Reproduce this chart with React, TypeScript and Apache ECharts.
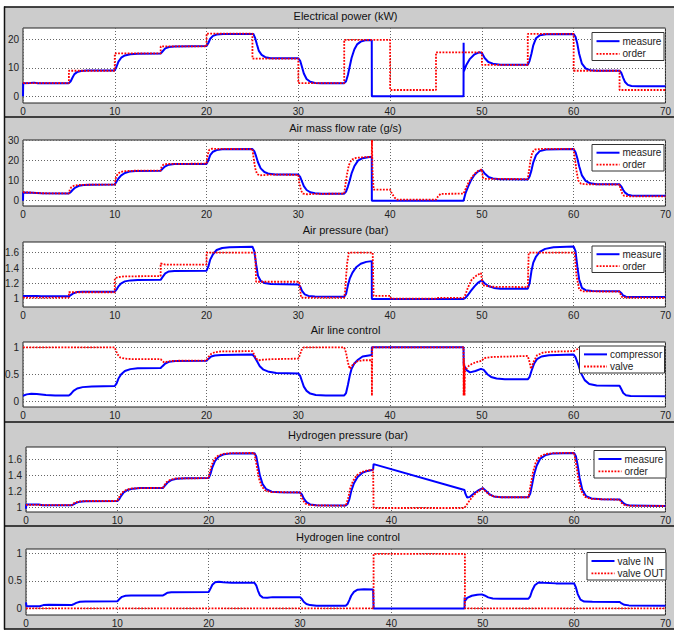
import React, { useEffect, useRef } from "react";
import * as echarts from "echarts";

const FONT = '"Liberation Sans", Arial, Helvetica, sans-serif';
const BLUE = "#0000ff";
const RED = "#ff0000";
const RED_DASH = [1.8, 1.4];

// Time axis (s)
const timeMin = 0;
const timeMax = 70;
const timeStep = 10;

// Tick labels of each panel's value axis
const powerTicks = [0, 10, 20];
const flowTicks = [0, 10, 20, 30];
const airPressureTicks = [1, 1.2, 1.4, 1.6];
const airControlTicks = [0, 0.5, 1];
const h2PressureTicks = [1, 1.2, 1.4, 1.6];
const h2ControlTicks = [0, 0.5, 1];

// Electrical power (kW): [time, value]
const powerMeasure = [
  [0, 0], [0.02, 4.6], [0.8, 4.7], [1.2, 4.8], [1.6, 4.6], [5, 4.6], [5.2, 5.3], [5.4, 6.6], [5.6, 7.8], [5.9, 8.5], [6.3, 8.9], [7, 9.05], [10, 9.1],
  [10.2, 10.5], [10.4, 12.2], [10.7, 13.6], [11.1, 14.4], [11.7, 14.8], [12.5, 15], [15, 15.1],
  [15.2, 15.8], [15.5, 16.9], [15.9, 17.4], [16.5, 17.6], [20, 17.7],
  [20.2, 18.8], [20.4, 20.3], [20.7, 21.3], [21.1, 21.8], [21.8, 22], [25.1, 22],
  [25.3, 20.5], [25.5, 18.2], [25.7, 16], [26, 14.6], [26.4, 13.8], [27, 13.4], [30, 13.4],
  [30.2, 12.5], [30.4, 10.3], [30.6, 8], [30.9, 6.1], [31.3, 5.1], [31.8, 4.7], [32.5, 4.6], [35, 4.6],
  [35.2, 5.3], [35.4, 7.5], [35.6, 10.5], [35.8, 13.5], [36.1, 16.5], [36.4, 18.3], [36.8, 19.3], [37.3, 19.8], [38, 19.9],
  [38.01, 0], [48, 0], [48.01, 18.9], [48.03, 8.8], [48.3, 11], [48.7, 13.2], [49.2, 14.8], [49.7, 15.5], [50, 15.3],
  [50.3, 13.5], [50.7, 12.1], [51.2, 11.5], [52, 11.1], [55, 11.1],
  [55.2, 12.5], [55.4, 15], [55.6, 18], [55.9, 20.5], [56.3, 21.5], [57, 21.9], [60, 22],
  [60.2, 21], [60.4, 18.5], [60.6, 15], [60.9, 11.5], [61.3, 9.8], [61.8, 9.2], [62.5, 9.0], [65, 9.0],
  [65.2, 8.2], [65.4, 6.5], [65.6, 5], [65.9, 4], [66.3, 3.6], [67, 3.5], [70, 3.5],
];
const powerOrder = [
  [0, 4.6], [5, 4.6], [5, 9.0], [10, 9.0], [10, 15.1], [15, 15.1], [15, 17.6], [20, 17.6], [20, 22.1], [25, 22.1],
  [25, 13.3], [30, 13.3], [30, 4.6], [35, 4.6], [35, 19.9], [40, 19.9], [40, 2.2], [45, 2.2], [45, 15.5], [50, 15.5],
  [50, 11.1], [55, 11.1], [55, 22.0], [60, 22.0], [60, 9.0], [65, 9.0], [65, 2.2], [70, 2.2],
];

// Air mass flow rate (g/s)
const flowMeasure = [
  [0, 0], [0.02, 4.1], [1, 4], [2, 3.7], [5, 3.6], [5.2, 4.2], [5.4, 5.3], [5.7, 6.5], [6.1, 7.4], [6.6, 7.8], [7.5, 7.9], [10, 8.0],
  [10.2, 9.5], [10.4, 11], [10.7, 12.5], [11.1, 13.7], [11.6, 14.4], [12.3, 14.7], [15, 14.8],
  [15.2, 15.8], [15.5, 17], [15.9, 17.8], [16.5, 18.1], [20, 18.2],
  [20.2, 20], [20.4, 22.5], [20.7, 24.2], [21.1, 25], [21.7, 25.4], [25, 25.5],
  [25.2, 24.5], [25.4, 22], [25.6, 19], [25.9, 16], [26.3, 14.2], [26.8, 13.3], [27.5, 13], [30, 12.9],
  [30.2, 11.8], [30.4, 9.5], [30.6, 7.2], [30.9, 5.3], [31.3, 4.2], [31.8, 3.7], [32.5, 3.5], [35, 3.5],
  [35.2, 4.5], [35.4, 7], [35.6, 10], [35.8, 13.5], [36.1, 17], [36.5, 19.8], [37, 21], [37.6, 21.5], [38, 21.7],
  [38.01, 0], [48, 0],
  [48.2, 3.5], [48.5, 7], [48.8, 10], [49.2, 12.8], [49.6, 14.5], [50, 15.2], [50.3, 13.5], [50.7, 11.8], [51.2, 11], [52, 10.6], [55, 10.5],
  [55.2, 12], [55.4, 15], [55.6, 19], [55.9, 22.5], [56.3, 24.5], [57, 25.3], [60, 25.5],
  [60.2, 24], [60.4, 21], [60.6, 17], [60.9, 12.5], [61.3, 9.8], [61.8, 8.6], [62.5, 8.2], [65, 8.1],
  [65.2, 7], [65.4, 5.3], [65.6, 4], [65.9, 3], [66.3, 2.6], [67, 2.5], [70, 2.5],
];
const flowOrder = [
  [0, 4.2], [1, 4], [2, 3.7], [5, 3.6], [5.1, 5.5], [5.25, 6.6], [5.5, 7.3], [6, 7.8], [7, 7.9], [10, 8],
  [10.1, 11], [10.3, 13.2], [10.6, 14.2], [11, 14.6], [12, 14.8], [15, 14.9], [15.1, 16.8], [15.3, 17.8], [15.7, 18.2], [20, 18.3],
  [20.1, 22.5], [20.3, 25.2], [20.6, 25.7], [21.2, 25.6], [25, 25.5], [25.1, 22], [25.3, 16], [25.5, 13.2], [25.8, 12.5], [26.3, 12.7], [27, 12.9], [30, 12.8],
  [30.1, 9], [30.3, 5], [30.5, 3.5], [31, 3.2], [32, 3.4], [35, 3.5], [35.1, 7], [35.3, 13], [35.5, 17.5], [35.8, 20.3], [36.3, 21.2], [37.5, 21.6], [38, 21.7],
  [38.02, 30], [38.08, 15], [38.2, 5.5], [40, 5.5], [40.2, 3.5], [40.5, 1.5], [40.8, 0.5], [45, 0.5], [45.2, 2], [45.5, 3.4], [48, 3.5],
  [48.2, 5.5], [48.5, 8.5], [48.8, 11], [49.2, 13.3], [49.6, 14.8], [50, 15.5], [50.1, 11.5], [50.3, 10.8], [55, 10.7],
  [55.1, 14], [55.3, 20], [55.5, 24], [55.8, 25.3], [56.5, 25.6], [60, 25.6], [60.1, 22], [60.3, 15], [60.5, 10], [60.8, 8.4], [61.5, 8.1], [65, 8],
  [65.1, 6], [65.3, 3.5], [65.5, 2.4], [66, 2.2], [70, 2.2],
];

// Air pressure (bar)
const airPressureMeasure = [
  [0, 1.035], [1.5, 1.035], [2, 1.03], [5, 1.03], [5.2, 1.045], [5.5, 1.07], [5.9, 1.085], [6.5, 1.09], [10, 1.09],
  [10.2, 1.12], [10.4, 1.16], [10.7, 1.2], [11.1, 1.225], [11.7, 1.238], [12.5, 1.243], [15, 1.245],
  [15.2, 1.28], [15.5, 1.33], [15.9, 1.355], [16.5, 1.362], [20, 1.365],
  [20.2, 1.42], [20.4, 1.51], [20.7, 1.58], [21.1, 1.635], [21.7, 1.662], [22.5, 1.672], [25, 1.678],
  [25.2, 1.62], [25.4, 1.45], [25.6, 1.3], [25.9, 1.23], [26.3, 1.205], [27, 1.19], [30, 1.185],
  [30.2, 1.16], [30.4, 1.1], [30.7, 1.055], [31.1, 1.035], [31.8, 1.028], [35, 1.025],
  [35.2, 1.06], [35.4, 1.17], [35.6, 1.26], [35.9, 1.34], [36.3, 1.41], [36.8, 1.455], [37.4, 1.48], [38, 1.49],
  [38.01, 0.995], [48, 0.995],
  [48.2, 1.01], [48.5, 1.05], [48.8, 1.1], [49.2, 1.16], [49.6, 1.21], [50, 1.24], [50.3, 1.2], [50.7, 1.165], [51.3, 1.14], [52, 1.13], [55, 1.13],
  [55.2, 1.2], [55.4, 1.36], [55.6, 1.47], [55.9, 1.55], [56.3, 1.61], [56.9, 1.65], [57.8, 1.672], [60, 1.68],
  [60.2, 1.62], [60.4, 1.42], [60.6, 1.25], [60.9, 1.14], [61.3, 1.11], [62, 1.1], [65, 1.095],
  [65.2, 1.07], [65.4, 1.04], [65.7, 1.025], [66.2, 1.02], [70, 1.02],
];
const airPressureOrder = [
  [0, 1.013], [5, 1.013], [5, 1.083], [10, 1.083], [10, 1.26], [10.3, 1.28], [11, 1.29], [15, 1.295], [15, 1.46], [15.5, 1.445], [20, 1.445],
  [20, 1.6], [25.3, 1.6], [25.4, 1.22], [30.1, 1.22], [30.3, 1.012], [35, 1.012], [35.1, 1.1], [35.3, 1.45], [35.5, 1.6], [38.1, 1.6],
  [38.2, 1.035], [40, 1.035], [40.1, 1.0], [45, 1.0], [45.1, 1.01], [48, 1.01], [48.2, 1.05], [48.5, 1.15], [48.9, 1.25], [49.4, 1.3], [49.9, 1.335],
  [50.1, 1.175], [51, 1.155], [55, 1.15], [55.1, 1.6], [60.1, 1.6], [60.3, 1.3], [60.6, 1.12], [61, 1.095], [65, 1.09],
  [65.1, 1.06], [65.3, 1.015], [70, 1.01],
];

// Air line control (compressor and valve commands)
const compressorCmd = [
  [0, 0.1], [0.4, 0.125], [0.9, 0.135], [1.5, 0.13], [2.5, 0.115], [3.5, 0.105], [5, 0.105],
  [5.2, 0.13], [5.5, 0.19], [5.9, 0.235], [6.5, 0.26], [7.5, 0.27], [10, 0.28],
  [10.2, 0.33], [10.4, 0.42], [10.7, 0.5], [11.1, 0.56], [11.7, 0.595], [12.5, 0.61], [15, 0.615],
  [15.2, 0.65], [15.5, 0.7], [15.9, 0.73], [16.6, 0.745], [20, 0.75],
  [20.2, 0.785], [20.5, 0.83], [20.9, 0.85], [21.6, 0.86], [25, 0.865],
  [25.2, 0.83], [25.5, 0.74], [25.8, 0.65], [26.2, 0.585], [26.8, 0.545], [27.6, 0.525], [30, 0.515],
  [30.2, 0.47], [30.4, 0.37], [30.6, 0.27], [30.9, 0.19], [31.3, 0.14], [31.9, 0.115], [33, 0.105], [35, 0.105],
  [35.2, 0.15], [35.4, 0.3], [35.6, 0.47], [35.8, 0.6], [36.1, 0.7], [36.5, 0.77], [37, 0.83], [38, 0.86],
  [38.01, 1.0], [48, 1.0], [48.02, 0.68], [48.3, 0.58], [48.7, 0.535], [49.3, 0.56], [49.9, 0.6], [50.2, 0.58], [50.6, 0.5], [51, 0.45], [51.6, 0.42], [52.5, 0.405], [55, 0.405],
  [55.2, 0.45], [55.4, 0.56], [55.7, 0.7], [56, 0.78], [56.5, 0.83], [57.3, 0.855], [60, 0.865],
  [60.2, 0.82], [60.5, 0.68], [60.8, 0.52], [61.2, 0.39], [61.7, 0.32], [62.5, 0.29], [65, 0.285],
  [65.2, 0.22], [65.4, 0.15], [65.7, 0.11], [66.2, 0.095], [70, 0.09],
];
const valveCmd = [
  [0, 1], [10, 1], [10.1, 0.95], [10.3, 0.87], [10.6, 0.81], [11.1, 0.79], [12, 0.78], [15, 0.78], [15.2, 0.74], [15.4, 0.72], [15.8, 0.74], [16.5, 0.75], [20, 0.755],
  [20.2, 0.82], [20.5, 0.88], [20.9, 0.91], [21.6, 0.925], [25, 0.93], [25.2, 0.86], [25.4, 0.79], [25.7, 0.76], [26.1, 0.77], [27, 0.78], [30, 0.79],
  [30.15, 0.85], [30.35, 0.95], [30.6, 1], [35, 1], [35.2, 0.9], [35.4, 0.72], [35.6, 0.6], [35.9, 0.67], [36.4, 0.74], [37, 0.76], [38, 0.76],
  [38.02, 0.1], [38.05, 1], [48, 1], [48.01, 0.1], [48.03, 0.8], [48.05, 0.15], [48.08, 0.7], [48.11, 0.1], [48.15, 0.55],
  [48.3, 0.6], [48.6, 0.66], [49, 0.7], [49.5, 0.73], [50, 0.75], [50.2, 0.8], [51, 0.82], [53, 0.83], [55, 0.84],
  [55.2, 0.72], [55.35, 0.6], [55.6, 0.72], [56, 0.85], [56.6, 0.9], [57.5, 0.92], [60, 0.93], [60.3, 0.96], [61, 1], [70, 1],
];

// Hydrogen pressure (bar)
const h2PressureMeasure = [
  [0, 0.98], [0.03, 1.035], [1.4, 1.035], [1.8, 1.025], [5, 1.025], [5.2, 1.035], [5.5, 1.055], [5.9, 1.07], [6.5, 1.075], [10, 1.078],
  [10.2, 1.1], [10.4, 1.14], [10.7, 1.185], [11.1, 1.215], [11.7, 1.233], [12.5, 1.24], [15, 1.242],
  [15.2, 1.27], [15.5, 1.31], [15.9, 1.34], [16.5, 1.357], [17.5, 1.362], [20, 1.365],
  [20.2, 1.42], [20.4, 1.5], [20.7, 1.58], [21.1, 1.635], [21.7, 1.665], [22.5, 1.675], [25, 1.678],
  [25.2, 1.64], [25.4, 1.52], [25.6, 1.4], [25.9, 1.29], [26.3, 1.225], [26.9, 1.195], [27.8, 1.187], [30, 1.185],
  [30.2, 1.16], [30.4, 1.11], [30.7, 1.065], [31.1, 1.035], [31.8, 1.025], [35, 1.022],
  [35.2, 1.04], [35.4, 1.1], [35.6, 1.2], [35.9, 1.3], [36.3, 1.38], [36.8, 1.43], [37.4, 1.455], [38, 1.47],
  [38.05, 1.54], [48, 1.215], [48.1, 1.17], [48.3, 1.12], [48.6, 1.13], [49, 1.17], [49.5, 1.21], [50, 1.24], [50.3, 1.21], [50.7, 1.165], [51.2, 1.135], [52, 1.125], [55, 1.125],
  [55.2, 1.17], [55.4, 1.28], [55.6, 1.4], [55.9, 1.52], [56.3, 1.61], [56.9, 1.655], [57.7, 1.675], [60, 1.68],
  [60.2, 1.64], [60.4, 1.52], [60.6, 1.37], [60.9, 1.22], [61.3, 1.14], [61.9, 1.11], [63, 1.1], [65, 1.097],
  [65.2, 1.075], [65.4, 1.05], [65.7, 1.03], [66.2, 1.02], [70, 1.015],
];
const h2PressureOrder = [
  [0, 1.03], [1.4, 1.03], [1.8, 1.025], [5, 1.025], [5.1, 1.04], [5.4, 1.06], [5.8, 1.072], [6.5, 1.078], [10, 1.078],
  [10.1, 1.1], [10.3, 1.15], [10.6, 1.19], [11, 1.22], [11.6, 1.235], [12.5, 1.24], [15, 1.242],
  [15.1, 1.27], [15.4, 1.315], [15.8, 1.345], [16.4, 1.36], [20, 1.365],
  [20.1, 1.43], [20.3, 1.52], [20.6, 1.6], [21, 1.645], [21.6, 1.67], [22.5, 1.678], [25, 1.68],
  [25.1, 1.62], [25.3, 1.49], [25.5, 1.36], [25.8, 1.26], [26.2, 1.21], [26.8, 1.19], [30, 1.185],
  [30.1, 1.15], [30.3, 1.09], [30.6, 1.045], [31, 1.03], [31.7, 1.022], [35, 1.02],
  [35.1, 1.05], [35.3, 1.13], [35.5, 1.24], [35.8, 1.33], [36.2, 1.4], [36.7, 1.44], [37.3, 1.46], [38, 1.47],
  [38.05, 0.99], [48, 0.99], [48.3, 1.04], [48.6, 1.09], [49, 1.15], [49.5, 1.2], [50, 1.235], [50.3, 1.2], [50.7, 1.16], [51.2, 1.135], [52, 1.125], [55, 1.125],
  [55.1, 1.19], [55.3, 1.31], [55.5, 1.44], [55.8, 1.56], [56.2, 1.63], [56.8, 1.665], [57.6, 1.678], [60, 1.682],
  [60.1, 1.62], [60.3, 1.48], [60.5, 1.33], [60.8, 1.2], [61.2, 1.13], [61.8, 1.105], [63, 1.1], [65, 1.095],
  [65.1, 1.07], [65.3, 1.04], [65.6, 1.025], [66.2, 1.017], [70, 1.015],
];

// Hydrogen line control (valve commands)
const valveInCmd = [
  [0, 0.11], [0.05, 0.04], [1.5, 0.04], [1.9, 0.06], [2.5, 0.065], [5, 0.06], [5.2, 0.075], [5.5, 0.1], [5.9, 0.12], [6.5, 0.125], [10, 0.13],
  [10.2, 0.165], [10.5, 0.21], [10.9, 0.23], [11.5, 0.235], [15, 0.235], [15.2, 0.255], [15.5, 0.285], [15.9, 0.295], [20, 0.3],
  [20.2, 0.36], [20.4, 0.43], [20.7, 0.475], [21.1, 0.485], [21.6, 0.475], [22.5, 0.468], [25, 0.467],
  [25.2, 0.42], [25.4, 0.32], [25.6, 0.24], [25.9, 0.2], [26.4, 0.195], [27, 0.205], [30, 0.205],
  [30.2, 0.17], [30.4, 0.12], [30.7, 0.08], [31.1, 0.06], [31.8, 0.05], [35, 0.05],
  [35.2, 0.08], [35.4, 0.15], [35.6, 0.23], [35.9, 0.3], [36.3, 0.34], [37, 0.35], [38, 0.345],
  [38.05, 0], [48, 0], [48.02, 0.2], [48.04, 0.13], [48.3, 0.19], [48.8, 0.23], [49.4, 0.25], [49.9, 0.255], [50.2, 0.235], [50.6, 0.2], [51.1, 0.18], [52, 0.175], [55, 0.175],
  [55.2, 0.22], [55.4, 0.32], [55.7, 0.42], [56.1, 0.47], [56.7, 0.465], [58, 0.455], [60, 0.455],
  [60.2, 0.38], [60.4, 0.26], [60.7, 0.16], [61.1, 0.125], [62, 0.12], [65, 0.115],
  [65.2, 0.09], [65.5, 0.065], [66, 0.055], [70, 0.05],
];
const valveOutCmd = [
  [0, 0], [38.05, 0], [38.05, 0.99], [48.05, 0.99], [48.05, 0], [70, 0],
];

type Panel = {
  title: string;
  left: number;
  top: number;
  width: number;
  height: number;
  yMin: number;
  yMax: number;
  yTicks: number[];
  solid: { name: string; data: number[][] };
  dotted: { name: string; data: number[][] };
  // legend box: x, y, width, height
  legendBox: number[];
};

const panels: Panel[] = [
  {
    title: "Electrical power (kW)", left: 23, top: 28, width: 645, height: 75,
    yMin: -2.4, yMax: 24.1, yTicks: powerTicks,
    solid: { name: "measure", data: powerMeasure }, dotted: { name: "order", data: powerOrder },
    legendBox: [592, 32.5, 72, 28],
  },
  {
    title: "Air mass flow rate (g/s)", left: 23, top: 140, width: 645, height: 66,
    yMin: -2.6, yMax: 30, yTicks: flowTicks,
    solid: { name: "measure", data: flowMeasure }, dotted: { name: "order", data: flowOrder },
    legendBox: [592, 144.5, 72, 26.5],
  },
  {
    title: "Air pressure (bar)", left: 23, top: 242, width: 645, height: 65,
    yMin: 0.89, yMax: 1.74, yTicks: airPressureTicks,
    solid: { name: "measure", data: airPressureMeasure }, dotted: { name: "order", data: airPressureOrder },
    legendBox: [592, 246, 72, 26.5],
  },
  {
    title: "Air line control", left: 23, top: 342, width: 645, height: 65,
    yMin: -0.11, yMax: 1.1, yTicks: airControlTicks,
    solid: { name: "compressor", data: compressorCmd }, dotted: { name: "valve", data: valveCmd },
    legendBox: [579.5, 346, 85, 27],
  },
  {
    title: "Hydrogen pressure (bar)", left: 26, top: 447, width: 644, height: 65,
    yMin: 0.94, yMax: 1.755, yTicks: h2PressureTicks,
    solid: { name: "measure", data: h2PressureMeasure }, dotted: { name: "order", data: h2PressureOrder },
    legendBox: [594, 450.5, 72, 27.5],
  },
  {
    title: "Hydrogen line control", left: 26, top: 549, width: 644, height: 66,
    yMin: -0.12, yMax: 1.08, yTicks: h2ControlTicks,
    solid: { name: "valve IN", data: valveInCmd }, dotted: { name: "valve OUT", data: valveOutCmd },
    legendBox: [587, 552.5, 79, 27.5],
  },
];

const gridLineStyle = { color: "#666", type: [1, 2] as number[], width: 1 };
const labelStyle = { fontSize: 10, color: "#222", fontFamily: FONT };
const LEGEND_Z = 100;

// Boxed legend in the corner of a panel: a white frame with a line sample and a label per series
function legendGraphic(p: Panel) {
  const [bx, by, bw, bh] = p.legendBox;
  const rowA = by + bh * 0.31;
  const rowB = by + bh * 0.76;
  const lx = bx + 4.5;
  const lineLen = 23;
  const tx = lx + lineLen + 3;
  const font = `10px ${FONT}`;
  return [
    { type: "rect", z: LEGEND_Z, silent: true, shape: { x: bx, y: by, width: bw, height: bh }, style: { fill: "#fff", stroke: "#333", lineWidth: 1 } },
    { type: "line", z: LEGEND_Z + 1, silent: true, shape: { x1: lx, y1: rowA, x2: lx + lineLen, y2: rowA }, style: { stroke: BLUE, lineWidth: 2 } },
    { type: "text", z: LEGEND_Z + 1, silent: true, x: tx, y: rowA, style: { text: p.solid.name, fill: "#222", font, verticalAlign: "middle" } },
    { type: "line", z: LEGEND_Z + 1, silent: true, shape: { x1: lx, y1: rowB, x2: lx + lineLen, y2: rowB }, style: { stroke: RED, lineWidth: 1.8, lineDash: RED_DASH } },
    { type: "text", z: LEGEND_Z + 1, silent: true, x: tx, y: rowB, style: { text: p.dotted.name, fill: "#222", font, verticalAlign: "middle" } },
  ];
}

function buildOption() {
  const grid: any[] = [];
  const xAxis: any[] = [];
  const yAxis: any[] = [];
  const series: any[] = [];
  const frame = { stroke: "#111", lineWidth: 1.5 };
  const graphic: any[] = [
    // white page margins around the grey figure
    { type: "rect", shape: { x: 0, y: 0, width: 674, height: 6.5 }, style: { fill: "#fff" }, silent: true },
    { type: "rect", shape: { x: 0, y: 0, width: 4, height: 631 }, style: { fill: "#fff" }, silent: true },
    { type: "rect", shape: { x: 0, y: 629.5, width: 674, height: 2 }, style: { fill: "#fff" }, silent: true },
    // figure frames
    { type: "line", shape: { x1: 4.5, y1: 6.5, x2: 4.5, y2: 629.5 }, style: frame, silent: true },
    { type: "line", shape: { x1: 4, y1: 7, x2: 674, y2: 7 }, style: frame, silent: true },
    { type: "line", shape: { x1: 4, y1: 117, x2: 674, y2: 117 }, style: frame, silent: true },
    { type: "line", shape: { x1: 4, y1: 422, x2: 674, y2: 422 }, style: frame, silent: true },
    { type: "line", shape: { x1: 4, y1: 526, x2: 674, y2: 526 }, style: frame, silent: true },
    { type: "line", shape: { x1: 4, y1: 629, x2: 674, y2: 629 }, style: frame, silent: true },
  ];

  panels.forEach((p, i) => {
    grid.push({
      left: p.left, top: p.top, width: p.width, height: p.height,
      show: true, backgroundColor: "#fff", borderColor: "#222", borderWidth: 1,
      containLabel: false,
    });
    xAxis.push({
      type: "value", gridIndex: i, min: timeMin, max: timeMax, interval: timeStep,
      axisLine: { show: false }, axisTick: { show: false },
      axisLabel: { ...labelStyle, margin: 3 },
      splitLine: { show: true, lineStyle: gridLineStyle },
    });
    yAxis.push({
      type: "value", gridIndex: i, min: p.yMin, max: p.yMax,
      axisLine: { show: false },
      axisTick: { show: false, customValues: p.yTicks },
      axisLabel: { ...labelStyle, margin: 4, customValues: p.yTicks },
      splitLine: { show: true, lineStyle: gridLineStyle },
    });
    series.push({
      type: "line", name: p.solid.name, xAxisIndex: i, yAxisIndex: i, data: p.solid.data,
      symbol: "none", lineStyle: { color: BLUE, width: 2 }, itemStyle: { color: BLUE }, z: 3,
    });
    series.push({
      type: "line", name: p.dotted.name, xAxisIndex: i, yAxisIndex: i, data: p.dotted.data,
      symbol: "none", lineStyle: { color: RED, width: 1.8, type: RED_DASH }, itemStyle: { color: RED }, z: 4,
    });
    graphic.push(...legendGraphic(p));
    graphic.push({
      type: "text", x: p.left + p.width / 2, y: p.top - 12, silent: true,
      style: { text: p.title, fill: "#111", font: `11px ${FONT}`, align: "center", verticalAlign: "middle" },
    });
  });

  return {
    animation: false,
    backgroundColor: "#cccccc",
    textStyle: { fontFamily: FONT },
    grid, xAxis, yAxis, series, graphic,
  };
}

export default function App() {
  const ref = useRef<HTMLDivElement>(null);
  useEffect(() => {
    document.body.style.margin = "0";
    const chart = echarts.init(ref.current!, null, { renderer: "svg" });
    chart.setOption(buildOption());
    return () => chart.dispose();
  }, []);
  return <div ref={ref} style={{ width: 674, height: 631 }} />;
}
